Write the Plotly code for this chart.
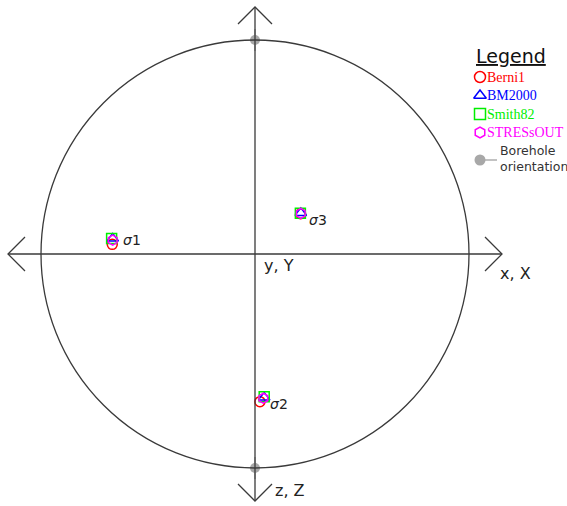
import plotly.graph_objects as go

# Stereographic projection coordinates (unit circle) of the principal stresses
methods = ["Berni1", "BM2000", "Smith82", "STRESsOUT"]
colors = ["#ff0000", "#0000ff", "#00ee00", "#ff00ff"]
symbols = ["circle-open", "triangle-up-open", "square-open", "hexagon-open"]

sigma1_x = [-0.667, -0.665, -0.670, -0.665]
sigma1_y = [0.045, 0.073, 0.073, 0.065]
sigma2_x = [0.023, 0.043, 0.043, 0.039]
sigma2_y = [-0.690, -0.670, -0.667, -0.674]
sigma3_x = [0.213, 0.214, 0.212, 0.214]
sigma3_y = [0.188, 0.192, 0.191, 0.190]

stress_labels = ["σ1", "σ2", "σ3"]
borehole_x = [0.0, 0.0]
borehole_y = [1.0, -1.0]

W, H = 567, 506
CX, CY, R = 255, 254, 214  # circle centre and radius in pixels
x_range = [-CX / R, (W - CX) / R]
y_range = [-(H - CY) / R, CY / R]

LINE = "#3a3a3a"
fig = go.Figure()

# primitive circle and axes
shapes = [dict(type="circle", xref="x", yref="y", x0=-1, y0=-1, x1=1, y1=1,
               line=dict(color=LINE, width=1.3))]
ext = 247 / R
arm = 17 / R
shapes.append(dict(type="line", xref="x", yref="y", x0=-ext, y0=0, x1=ext, y1=0,
                   line=dict(color=LINE, width=1.3)))
shapes.append(dict(type="line", xref="x", yref="y", x0=0, y0=-ext, x1=0, y1=ext,
                   line=dict(color=LINE, width=1.3)))
for sx, sy in [(1, 0), (-1, 0), (0, 1), (0, -1)]:
    tx, ty = sx * ext, sy * ext
    if sx:
        path = f"M{tx - sx*arm},{arm} L{tx},{ty} L{tx - sx*arm},{-arm}"
    else:
        path = f"M{-arm},{ty - sy*arm} L{tx},{ty} L{arm},{ty - sy*arm}"
    shapes.append(dict(type="path", xref="x", yref="y", path=path,
                       line=dict(color=LINE, width=1.3)))

# borehole orientation
seg = 11 / R
for bx, by in zip(borehole_x, borehole_y):
    fig.add_trace(go.Scatter(x=[bx, bx], y=[by - seg, by + seg], mode="lines",
                             line=dict(color="#b0b0b0", width=1.6),
                             hoverinfo="skip", showlegend=False))
fig.add_trace(go.Scatter(x=borehole_x, y=borehole_y, mode="markers",
                         marker=dict(color="#a8a8a8", size=10, line=dict(width=0)),
                         showlegend=False))

# principal stress markers
for i, m in enumerate(methods):
    fig.add_trace(go.Scatter(
        x=[sigma1_x[i], sigma2_x[i], sigma3_x[i]],
        y=[sigma1_y[i], sigma2_y[i], sigma3_y[i]],
        mode="markers", name=m, showlegend=False,
        marker=dict(symbol=symbols[i], size=10, color=colors[i],
                    line=dict(width=1.5, color=colors[i]))))

def mean(v):
    return sum(v) / len(v)

label_pos = [(mean(sigma1_x), mean(sigma1_y), 9, 0),
             (mean(sigma2_x), mean(sigma2_y), 5, -5),
             (mean(sigma3_x), mean(sigma3_y), 6, -7)]
ann = []
for lab, (lx, ly, dx, dy) in zip(stress_labels, label_pos):
    ann.append(dict(x=lx, y=ly, xref="x", yref="y", text=f"<i>σ</i>{lab[1:]}",
                    showarrow=False, xanchor="left", yanchor="middle",
                    xshift=dx, yshift=dy,
                    font=dict(family="DejaVu Sans", size=14, color="#222")))

# axis names
for txt, px, py in [("x, X", 498, 273), ("y, Y", 262, 265), ("z, Z", 273, 490)]:
    ann.append(dict(x=px, y=py, xref="x2", yref="y2", text=txt, showarrow=False,
                    xanchor="left", yanchor="middle",
                    font=dict(family="DejaVu Sans", size=16, color="#222")))

# legend box
ann.append(dict(x=474, y=56, xref="x2", yref="y2", text="<u>Legend</u>",
                showarrow=False, xanchor="left", yanchor="middle",
                font=dict(family="DejaVu Sans", size=19, color="#111")))
leg_y = [77, 95.5, 114, 132.5]
for i, m in enumerate(methods):
    fig.add_trace(go.Scatter(x=[480], y=[leg_y[i]], xaxis="x2", yaxis="y2",
                             mode="markers", showlegend=False, hoverinfo="skip",
                             marker=dict(symbol=symbols[i], size=11, color=colors[i],
                                         line=dict(width=1.5, color=colors[i]))))
    ann.append(dict(x=485, y=leg_y[i], xref="x2", yref="y2", text=m,
                    showarrow=False, xanchor="left", yanchor="middle",
                    font=dict(family="Liberation Serif", size=14, color=colors[i])))
fig.add_trace(go.Scatter(x=[480, 497], y=[160, 160], xaxis="x2", yaxis="y2",
                         mode="lines", line=dict(color="#a8a8a8", width=1.4),
                         showlegend=False, hoverinfo="skip"))
fig.add_trace(go.Scatter(x=[480], y=[160], xaxis="x2", yaxis="y2", mode="markers",
                         marker=dict(color="#a8a8a8", size=11), showlegend=False,
                         hoverinfo="skip"))
ann.append(dict(x=498, y=158.5, xref="x2", yref="y2", text="Borehole<br>orientation",
                showarrow=False, xanchor="left", yanchor="middle", align="left",
                font=dict(family="DejaVu Sans", size=12.5, color="#333")))

fig.update_layout(
    width=W, height=H, margin=dict(l=0, r=0, t=0, b=0),
    paper_bgcolor="white", plot_bgcolor="white",
    xaxis=dict(range=x_range, visible=False, fixedrange=True),
    yaxis=dict(range=y_range, visible=False, fixedrange=True),
    xaxis2=dict(range=[0, W], visible=False, overlaying="x", anchor="y2"),
    yaxis2=dict(range=[H, 0], visible=False, overlaying="y", anchor="x2"),
    shapes=shapes, annotations=ann, showlegend=False,
)
fig.write_html("out.html")
